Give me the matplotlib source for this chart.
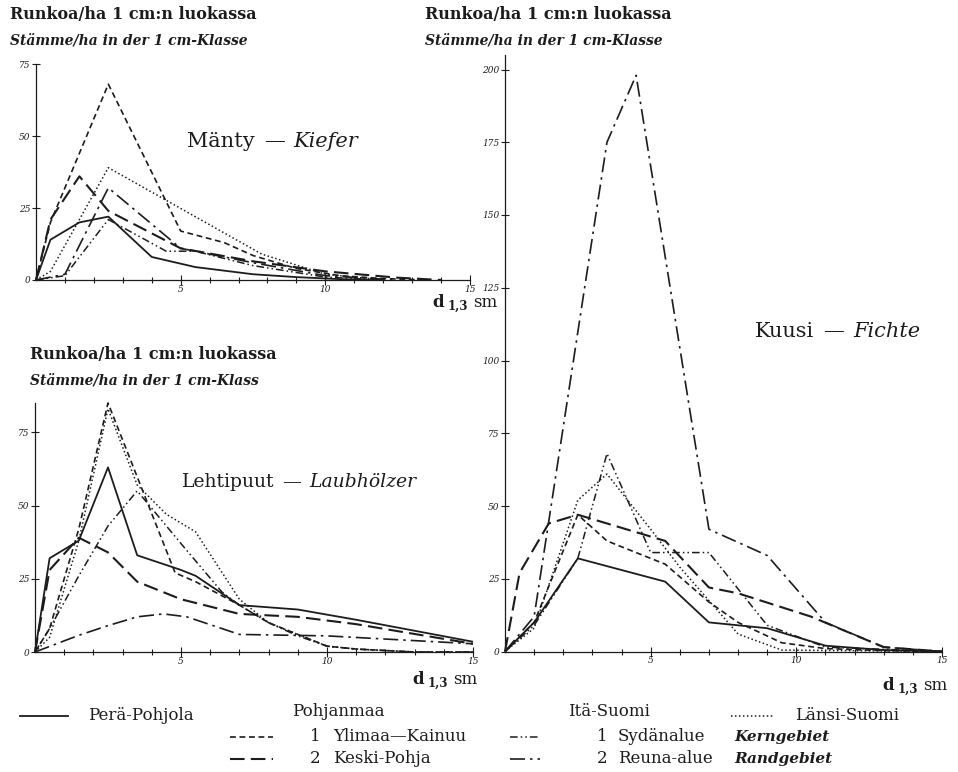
import matplotlib
matplotlib.use("Agg")
import matplotlib.pyplot as plt
from matplotlib.lines import Line2D

W, H = 958, 772
plt.rcParams['font.family'] = ['DejaVu Serif']
INK = '#1c1c1c'

# ---------------- data (stems/ha per 1 cm class, x = d1.3 cm) ----------------
# Mänty — Kiefer
kiefer_pera_x = [0, 0.5, 1.5, 2.5, 4, 5.5, 7.5, 9, 10.5, 12]
kiefer_pera_y = [0, 14, 20, 22, 8, 4.5, 2, 1, 0.3, 0]
kiefer_ylimaa_x = [0, 0.5, 2.5, 5, 6.5, 7.5, 9, 10.5, 12, 13.5]
kiefer_ylimaa_y = [0, 20, 68, 17, 13, 8.5, 4, 1.5, 0.5, 0]
kiefer_keski_x = [0, 0.5, 1.5, 2.5, 5, 7.5, 10, 12.5, 14]
kiefer_keski_y = [0, 21, 36, 24, 11, 6.5, 3, 0.8, 0]
kiefer_syd_x = [0, 1, 2.5, 4.5, 5.5, 7.5, 10, 12]
kiefer_syd_y = [0, 1.5, 21, 10, 10, 5, 1, 0]
kiefer_reuna_x = [0, 1, 2.5, 5, 7.5, 10, 12.5]
kiefer_reuna_y = [0, 2, 32, 11, 6, 1.5, 0]
kiefer_lansi_x = [0, 0.5, 2.5, 7.8, 10, 12]
kiefer_lansi_y = [0, 3, 39, 9, 2, 0]

# Lehtipuut — Laubhölzer
laub_pera_x = [0, 0.5, 1.5, 2.5, 3.5, 5, 5.5, 7, 9, 11, 15]
laub_pera_y = [0, 32, 38, 63, 33, 28, 26, 16, 14.5, 11, 3.5]
laub_ylimaa_x = [0, 0.5, 1.5, 2.5, 4.8, 5.5, 7, 8, 9, 10, 11, 12, 13, 15]
laub_ylimaa_y = [0, 8, 42, 85, 27, 24, 16, 10, 6, 2, 1, 0.5, 0, 0]
laub_keski_x = [0, 0.5, 1.5, 2.5, 3.5, 5, 7, 9, 11, 15]
laub_keski_y = [0, 28, 39, 34, 24, 18, 13, 12, 9.5, 2.8]
laub_syd_x = [0, 0.5, 1.5, 2.5, 3.5, 5, 6.4, 7, 8, 9, 10, 11, 12, 13, 15]
laub_syd_y = [0, 8, 26, 43, 55, 37, 20.5, 16, 10, 5.5, 2, 1, 0.5, 0, 0]
laub_reuna_x = [0, 1.5, 2.5, 3.5, 4.4, 5.2, 7, 10, 15]
laub_reuna_y = [0, 5.7, 9, 12, 13, 12, 6, 5.5, 2.8]
laub_lansi_x = [0, 0.5, 1.5, 2.5, 3.5, 4.5, 5.5, 7, 8, 9, 10, 11, 12, 13, 15]
laub_lansi_y = [0, 5, 38, 83, 57, 47, 41, 18, 10, 6, 2, 1, 0.5, 0, 0]

# Kuusi — Fichte
fichte_pera_x = [0, 1, 2.5, 5.5, 7, 9, 11, 13, 15]
fichte_pera_y = [0, 10, 32, 24, 10, 8, 2, 0.5, 0]
fichte_ylimaa_x = [0, 1, 2.5, 3.5, 5.5, 7, 8, 9.5, 11, 13, 15]
fichte_ylimaa_y = [0, 10, 47, 38, 30, 17, 10, 3, 1, 0.3, 0]
fichte_keski_x = [0, 0.5, 1.5, 2.5, 4.5, 5.5, 7, 8, 10.5, 13, 15]
fichte_keski_y = [0, 27, 44, 47, 41, 38, 22, 20, 12, 1.5, 0]
fichte_syd_x = [0, 1, 2.5, 3.5, 5, 7, 9, 11, 15]
fichte_syd_y = [0, 9, 32, 68, 34, 34, 9, 1.5, 0]
fichte_reuna_x = [0, 1, 3.5, 4.5, 7, 9, 11, 13, 15]
fichte_reuna_y = [0, 12, 175, 198, 42, 33, 10, 1.5, 0]
fichte_lansi_x = [0, 1, 2.5, 3.5, 5, 6, 8, 9.5, 15]
fichte_lansi_y = [0, 8, 52, 61, 42, 29, 6, 0.5, 0]

x_ticks = [5, 10, 15]
kiefer_yticks = [0, 25, 50, 75]
laub_yticks = [0, 25, 50, 75]
fichte_yticks = [0, 25, 50, 75, 100, 125, 150, 175, 200]

# ---------------- styles ----------------
STY = {
    'pera':   dict(ls='-', lw=1.3),
    'ylimaa': dict(ls=(0, (3.5, 2.2)), lw=1.2),
    'keski':  dict(ls=(0, (7, 3)), lw=1.5),
    'syd':    dict(ls=(0, (5, 2, 1, 2, 1, 2)), lw=1.1),
    'reuna':  dict(ls=(0, (9, 3, 1.5, 3)), lw=1.2),
    'lansi':  dict(ls=(0, (1, 1.6)), lw=1.1),
}

fig = plt.figure(figsize=(W / 100, H / 100), dpi=100)
fig.patch.set_facecolor('white')


def px_axes(x0, x15, y0, ytop_px, ymax):
    ax = fig.add_axes([x0 / W, 1 - y0 / H, (x15 - x0) / W, (y0 - ytop_px) / H])
    ax.set_xlim(0, 15)
    ax.set_ylim(0, ymax)
    ax.patch.set_alpha(0)
    for s in ['top', 'right']:
        ax.spines[s].set_visible(False)
    for s in ['left', 'bottom']:
        ax.spines[s].set_color(INK)
        ax.spines[s].set_linewidth(0.9)
    return ax


def style_ticks(ax, yticks):
    ax.set_xticks(x_ticks)
    ax.set_xticks(range(1, 16), minor=True)
    ax.set_yticks(yticks)
    ax.tick_params(axis='both', which='both', direction='inout', color=INK,
                   width=0.8, labelsize=6.5, labelcolor=INK)
    ax.tick_params(axis='x', which='major', length=7, pad=0)
    ax.tick_params(axis='x', which='minor', length=5)
    ax.tick_params(axis='y', which='major', length=6, pad=1)
    for lab in ax.get_xticklabels() + ax.get_yticklabels():
        lab.set_fontstyle('italic')


def draw(ax, data):
    for key, (xs, ys) in data.items():
        ax.plot(xs, ys, color=INK, solid_capstyle='butt', dash_capstyle='butt',
                clip_on=False, **STY[key])


ax1 = px_axes(36, 470, 280, 64, 75)
draw(ax1, {'pera': (kiefer_pera_x, kiefer_pera_y), 'ylimaa': (kiefer_ylimaa_x, kiefer_ylimaa_y),
           'keski': (kiefer_keski_x, kiefer_keski_y), 'syd': (kiefer_syd_x, kiefer_syd_y),
           'reuna': (kiefer_reuna_x, kiefer_reuna_y), 'lansi': (kiefer_lansi_x, kiefer_lansi_y)})
style_ticks(ax1, kiefer_yticks)

ax2 = px_axes(35, 473, 652, 652 - 85 * 2.93, 85)
draw(ax2, {'pera': (laub_pera_x, laub_pera_y), 'ylimaa': (laub_ylimaa_x, laub_ylimaa_y),
           'keski': (laub_keski_x, laub_keski_y), 'syd': (laub_syd_x, laub_syd_y),
           'reuna': (laub_reuna_x, laub_reuna_y), 'lansi': (laub_lansi_x, laub_lansi_y)})
style_ticks(ax2, laub_yticks)

ax3 = px_axes(505, 942, 651.5, 651.5 - 205 * 2.91, 205)
draw(ax3, {'pera': (fichte_pera_x, fichte_pera_y), 'ylimaa': (fichte_ylimaa_x, fichte_ylimaa_y),
           'keski': (fichte_keski_x, fichte_keski_y), 'syd': (fichte_syd_x, fichte_syd_y),
           'reuna': (fichte_reuna_x, fichte_reuna_y), 'lansi': (fichte_lansi_x, fichte_lansi_y)})
style_ticks(ax3, fichte_yticks)

renderer = fig.canvas.get_renderer()


def mixed(x_px, y_px, parts):
    """parts: list of (text, kwargs, dy_px, gap_px_after)"""
    x = x_px
    for s, kw, dy, gap in parts:
        t = fig.text(x / W, 1 - (y_px + dy) / H, s, va='baseline', ha='left', color=INK, **kw)
        bb = t.get_window_extent(renderer=renderer)
        x += bb.width + gap


HB = dict(fontsize=11.5, fontweight='bold')
HI = dict(fontsize=10, fontweight='bold', fontstyle='italic')
# headers
mixed(10, 19, [("Runkoa/ha 1 cm:n luokassa", HB, 0, 0)])
mixed(10, 45, [("Stämme/ha in der 1 cm-Klasse", HI, 0, 0)])
mixed(425, 19, [("Runkoa/ha 1 cm:n luokassa", HB, 0, 0)])
mixed(425, 45, [("Stämme/ha in der 1 cm-Klasse", HI, 0, 0)])
mixed(30, 359, [("Runkoa/ha 1 cm:n luokassa", HB, 0, 0)])
mixed(30, 385, [("Stämme/ha in der 1 cm-Klass", HI, 0, 0)])

# panel titles
TN = dict(fontsize=15)
TI = dict(fontsize=15, fontstyle='italic')
TN2 = dict(fontsize=13.5)
TI2 = dict(fontsize=13.5, fontstyle='italic')
mixed(187, 147, [("Mänty", TN, 0, 9), ("—", TN, 0, 9), ("Kiefer", TI, 0, 0)])
mixed(182, 487, [("Lehtipuut", TN2, 0, 8), ("—", TN2, 0, 8), ("Laubhölzer", TI2, 0, 0)])
mixed(755, 337, [("Kuusi", TN, 0, 9), ("—", TN, 0, 9), ("Fichte", TI, 0, 0)])

# x axis labels
DL = dict(fontsize=12, fontweight='bold')
DS = dict(fontsize=8.5, fontweight='bold')
SM = dict(fontsize=12)
for (xx, yy) in [(432, 307), (412, 684), (882, 690)]:
    mixed(xx, yy, [("d", DL, 0, 4), ("1,3", DS, 3, 5), ("sm", SM, 0, 0)])

# legend
LT = dict(fontsize=12)
LI = dict(fontsize=11, fontweight='bold', fontstyle='italic')


def sample(x1, x2, y, key):
    fig.add_artist(Line2D([x1 / W, x2 / W], [1 - y / H, 1 - y / H], color=INK,
                          transform=fig.transFigure, **STY[key]))


sample(20, 68, 716, 'pera')
mixed(88, 720, [("Perä-Pohjola", LT, 0, 0)])
mixed(292, 716, [("Pohjanmaa", LT, 0, 0)])
sample(230, 273, 737, 'ylimaa')
mixed(310, 741, [("1", LT, 0, 0)])
mixed(333, 741, [("Ylimaa—Kainuu", LT, 0, 0)])
sample(230, 273, 759, 'keski')
mixed(310, 763, [("2", LT, 0, 0)])
mixed(333, 763, [("Keski-Pohja", LT, 0, 0)])
mixed(568, 716, [("Itä-Suomi", LT, 0, 0)])
sample(510, 540, 737, 'syd')
mixed(597, 741, [("1", LT, 0, 0)])
mixed(618, 741, [("Sydänalue", LT, 0, 0)])
mixed(734, 741, [("Kerngebiet", LI, 0, 0)])
sample(510, 540, 759, 'reuna')
mixed(597, 763, [("2", LT, 0, 0)])
mixed(618, 763, [("Reuna-alue", LT, 0, 0)])
mixed(734, 763, [("Randgebiet", LI, 0, 0)])
sample(731, 774, 716, 'lansi')
mixed(795, 720, [("Länsi-Suomi", LT, 0, 0)])

fig.savefig("out.png", dpi=100, facecolor='white')
